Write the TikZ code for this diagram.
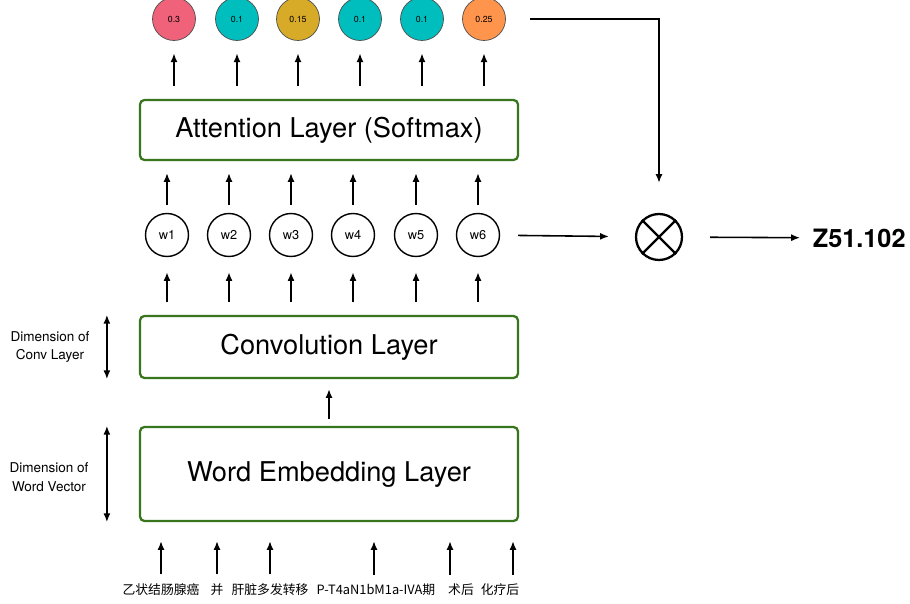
\documentclass[tikz,border=0pt]{standalone}
\usepackage{fontspec}
\setmainfont{TeX Gyre Heros}
\newfontfamily\cjk{Noto Sans CJK SC}
\usetikzlibrary{arrows.meta}
\definecolor{layergreen}{RGB}{56,118,29}
\definecolor{pinkc}{RGB}{240,98,122}
\definecolor{tealc}{RGB}{0,190,190}
\definecolor{goldc}{RGB}{215,170,40}
\definecolor{orangec}{RGB}{255,148,77}

\begin{document}
\begin{tikzpicture}[x=0.02cm, y=-0.02cm, >={Latex[length=5pt,width=4pt]}, line width=0.9pt,
  layer/.style={draw=layergreen, line width=1.3pt, rounded corners=2.5pt, minimum width=7.56cm, text depth=0.5ex, font=\fontsize{15.5}{18}\selectfont},
  word/.style={circle, draw, line width=0.8pt, minimum size=0.86cm, inner sep=0pt, font=\fontsize{7.3}{8}\selectfont},
  prob/.style={circle, draw=black!70, line width=0.4pt, minimum size=0.86cm, inner sep=0pt, font=\fontsize{5}{6}\selectfont},
  dimlabel/.style={align=center, font=\fontsize{7.7}{10.5}\selectfont},
  token/.style={font=\cjk\fontsize{7.3}{9}\selectfont, inner sep=1pt}]
  \useasboundingbox (0,0) rectangle (910,604);

  \node[layer, minimum height=1.2cm] (att) at (329,130) {Attention Layer (Softmax)};
  \node[layer, minimum height=1.24cm] (conv) at (329,347) {Convolution Layer};
  \node[layer, minimum height=1.88cm] (emb) at (329,474) {Word Embedding Layer};

  % word features
  \foreach \x [count=\i] in {167,229,291,353,416,478}
    \node[word] (w\i) at (\x,235) {w\i};

  % attention weights
  \foreach \x/\p/\c [count=\i] in {174/0.3/pinkc, 237/0.1/tealc, 298/0.15/goldc, 360/0.1/tealc, 422/0.1/tealc, 484/0.25/orangec}
    \node[prob, fill=\c] (p\i) at (\x,19) {\p};

  \foreach \i in {1,...,6} {
    \draw[->, shorten <=0.16cm, shorten >=0.24cm] (w\i) -- (att.south -| w\i);
    \draw[->, shorten <=0.26cm, shorten >=0.3cm] (conv.north -| w\i) -- (w\i);
    \draw[->, shorten <=0.26cm, shorten >=0.25cm] (att.north -| p\i) -- (p\i);
  }
  \draw[->, shorten <=0.14cm, shorten >=0.2cm] (emb.north) -- (conv.south);

  % dimensions
  \draw[<->] ([xshift=-0.64cm]conv.north west) -- ([xshift=-0.64cm]conv.south west);
  \node[dimlabel] (dconv) at (50,347) {Dimension of\\Conv Layer};
  \draw[<->] ([xshift=-0.64cm]emb.north west) -- ([xshift=-0.64cm]emb.south west);
  \node[dimlabel] (demb) at (49,477) {Dimension of\\Word Vector};

  % input tokens
  \foreach \x/\dx/\t [count=\i] in {161/0/乙状结肠腺癌, 217/0/并, 270/0/肝脏多发转移, 376/-2/P-T4aN1bM1a-IVA期, 461/-11/术后, 500/13/化疗后} {
    \node[token] (t\i) at (\x,590) {\t};
    \draw[->, shorten <=0.14cm, shorten >=0.38cm] ([xshift=\dx*0.02cm]t\i.north) -- ([xshift=\dx*0.02cm]t\i.north |- emb.south);
  }

  % weighted sum
  \node[circle, draw, line width=1.3pt, minimum size=0.92cm] (mul) at (659,237) {};
  \draw[line width=1.3pt] (mul.north west) -- (mul.south east) (mul.north east) -- (mul.south west);
  \node[font=\bfseries\fontsize{14.4}{17}\selectfont, anchor=west, inner sep=0pt] (out) at (812,238) {Z51.102};
  \draw[->, shorten <=0.36cm, shorten >=0.52cm] (w6) -- (mul);
  \draw[->, shorten <=0.54cm, shorten >=0.24cm] (mul) -- (out);
  \draw[->, shorten <=0.49cm, shorten >=0.6cm] (p6) -| (mul);
\end{tikzpicture}
\end{document}
